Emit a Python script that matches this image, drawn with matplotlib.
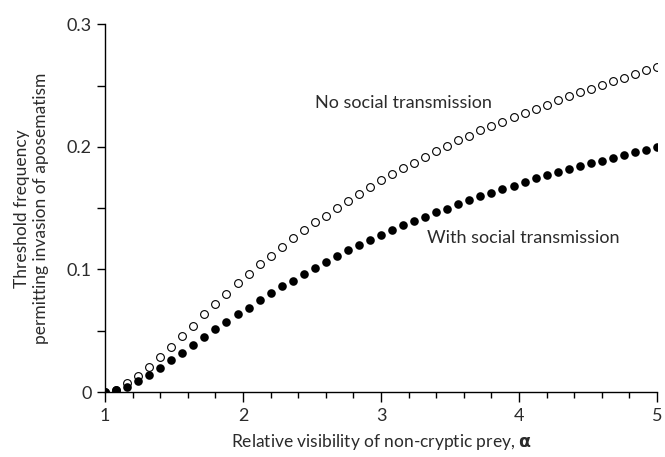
import numpy as np
import matplotlib.pyplot as plt
from matplotlib.ticker import MultipleLocator

# relative visibility of non-cryptic prey (alpha), sampled every 0.08
alpha = [1.00, 1.08, 1.16, 1.24, 1.32, 1.40, 1.48, 1.56, 1.64, 1.72,
         1.80, 1.88, 1.96, 2.04, 2.12, 2.20, 2.28, 2.36, 2.44, 2.52,
         2.60, 2.68, 2.76, 2.84, 2.92, 3.00, 3.08, 3.16, 3.24, 3.32,
         3.40, 3.48, 3.56, 3.64, 3.72, 3.80, 3.88, 3.96, 4.04, 4.12,
         4.20, 4.28, 4.36, 4.44, 4.52, 4.60, 4.68, 4.76, 4.84, 4.92,
         5.00]

# threshold frequency without social transmission (open circles)
no_social = [0.0000, 0.0018, 0.0071, 0.0133, 0.0201, 0.0288, 0.0367, 0.0456, 0.0540, 0.0633,
             0.0720, 0.0799, 0.0886, 0.0967, 0.1043, 0.1111, 0.1182, 0.1255, 0.1320, 0.1388,
             0.1440, 0.1500, 0.1559, 0.1619, 0.1673, 0.1728, 0.1779, 0.1825, 0.1872, 0.1918,
             0.1964, 0.2007, 0.2054, 0.2089, 0.2135, 0.2168, 0.2206, 0.2244, 0.2280, 0.2309,
             0.2345, 0.2380, 0.2415, 0.2447, 0.2475, 0.2508, 0.2537, 0.2565, 0.2597, 0.2624,
             0.2654]

# threshold frequency with social transmission (filled circles)
with_social = [0.0000, 0.0016, 0.0043, 0.0092, 0.0138, 0.0198, 0.0258, 0.0318, 0.0386, 0.0446,
               0.0511, 0.0575, 0.0633, 0.0688, 0.0748, 0.0806, 0.0866, 0.0910, 0.0964, 0.1013,
               0.1059, 0.1111, 0.1160, 0.1198, 0.1239, 0.1285, 0.1320, 0.1365, 0.1394, 0.1429,
               0.1470, 0.1497, 0.1538, 0.1565, 0.1597, 0.1627, 0.1654, 0.1684, 0.1714, 0.1747,
               0.1774, 0.1793, 0.1823, 0.1842, 0.1869, 0.1888, 0.1910, 0.1937, 0.1958, 0.1978,
               0.2000]

y_ticks = [0, 0.1, 0.2, 0.3]
y_ticklabels = ['0', '0.1', '0.2', '0.3']

plt.rcParams['font.family'] = ['Lato', 'DejaVu Sans']
txt = '#2b2b2b'

fig = plt.figure(figsize=(6.65, 4.57), dpi=100)
ax = fig.add_axes([0.158, 0.142, 0.830, 0.805])

ax.plot(alpha, no_social, 'o', ms=5.6, mfc='white', mec='black', mew=0.8, zorder=2)
ax.plot(alpha, with_social, 'o', ms=6.2, mfc='black', mec='black', mew=0, zorder=3)

ax.text(2.52, 0.2355, 'No social transmission', fontsize=13, color=txt, va='center')
ax.text(3.33, 0.1255, 'With social transmission', fontsize=13, color=txt, va='center')

ax.set_xlim(1, 5)
ax.set_ylim(0, 0.3)
ax.xaxis.set_major_locator(MultipleLocator(1))
ax.xaxis.set_minor_locator(MultipleLocator(0.2))
ax.set_yticks(y_ticks)
ax.set_yticklabels(y_ticklabels)
ax.yaxis.set_minor_locator(MultipleLocator(0.05))

for s in ['top', 'right']:
    ax.spines[s].set_visible(False)
for s in ['left', 'bottom']:
    ax.spines[s].set_linewidth(1.0)
    ax.spines[s].set_color('black')

ax.tick_params(axis='x', which='major', direction='out', length=7.5, width=1.0,
               labelsize=13, labelcolor=txt, pad=4)
ax.tick_params(axis='x', which='minor', direction='out', length=4, width=1.0)
ax.tick_params(axis='y', which='both', direction='out', length=5.5, width=1.0,
               labelsize=13, labelcolor=txt, pad=4)

ax.set_xlabel('Relative visibility of non-cryptic prey, $\\mathbf{\\alpha}$',
              fontsize=12.5, color=txt, labelpad=6)
ax.set_ylabel('Threshold frequency\npermitting invasion of aposematism',
              fontsize=12.5, color=txt, labelpad=13, linespacing=1.2)

fig.savefig('out.png', dpi=100)
